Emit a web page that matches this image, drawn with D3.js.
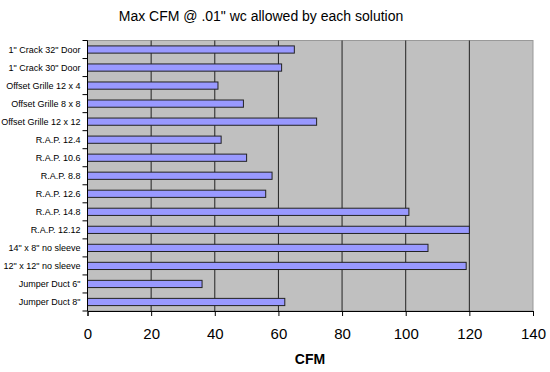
<!DOCTYPE html>
<html lang="en">
<head>
    <meta charset="UTF-8">
    <title>Max CFM @ .01" wc allowed by each solution</title>
    <script src="https://d3js.org/d3.v7.min.js"></script>
    <style>
        body {
            margin: 0;
            background: white;
            font-family: Arial, "Liberation Sans", sans-serif;
        }
    </style>
</head>
<body>
    <div id="chart"></div>
    <script>
        const categories = [
            "1\" Crack 32\" Door", "1\" Crack 30\" Door", "Offset Grille 12 x 4",
            "Offset Grille 8 x 8", "Offset Grille 12 x 12", "R.A.P. 12.4",
            "R.A.P. 10.6", "R.A.P. 8.8", "R.A.P. 12.6", "R.A.P. 14.8",
            "R.A.P. 12.12", "14\" x 8\" no sleeve", "12\" x 12\" no sleeve",
            "Jumper Duct 6\"", "Jumper Duct 8\""
        ];
        const values = [65, 61, 41, 49, 72, 42, 50, 58, 56, 101, 120, 107, 119, 36, 62];
        const xTicks = [0, 20, 40, 60, 80, 100, 120, 140];

        const W = 550, H = 372;
        const margin = { top: 40.5, right: 17, bottom: 61, left: 87.5 };
        const width = W - margin.left - margin.right;
        const height = H - margin.top - margin.bottom;

        const svg = d3.select("#chart")
            .append("svg")
            .attr("width", W)
            .attr("height", H);

        svg.append("text")
            .attr("x", 261)
            .attr("y", 21)
            .attr("text-anchor", "middle")
            .style("font-size", "14px")
            .text("Max CFM @ .01\" wc allowed by each solution");

        const g = svg.append("g")
            .attr("transform", `translate(${margin.left},${margin.top})`);

        const x = d3.scaleLinear().domain([0, 140]).range([0, width]);
        const y = d3.scaleBand().domain(categories).range([0, height]).paddingInner(0.6).paddingOuter(0.3);

        // plot area
        g.append("rect")
            .attr("width", width)
            .attr("height", height)
            .attr("fill", "#c0c0c0")
            .attr("stroke", "#999")
            .attr("stroke-width", 1);

        // gridlines
        g.selectAll(".grid")
            .data(xTicks.filter(d => d > 0 && d < 140))
            .enter()
            .append("line")
            .attr("x1", d => x(d)).attr("x2", d => x(d))
            .attr("y1", 0).attr("y2", height)
            .attr("stroke", "#222")
            .attr("stroke-width", 1);

        // bars
        g.selectAll(".bar")
            .data(categories)
            .enter()
            .append("rect")
            .attr("x", 0)
            .attr("y", d => y(d))
            .attr("width", (d, i) => x(values[i]))
            .attr("height", y.bandwidth())
            .attr("fill", "#9999ff")
            .attr("stroke", "#222")
            .attr("stroke-width", 1);

        // x axis
        const xAxis = g.append("g")
            .attr("transform", `translate(0,${height})`)
            .call(d3.axisBottom(x).tickValues(xTicks).tickSize(5).tickPadding(12));
        xAxis.select(".domain").attr("stroke", "#000");
        xAxis.selectAll("text")
            .style("font-size", "15px")
            .style("font-family", "Arial, 'Liberation Sans', sans-serif");

        // y axis: ticks between categories
        const step = height / categories.length;
        const yAxis = g.append("g");
        yAxis.append("line")
            .attr("x1", 0).attr("x2", 0)
            .attr("y1", 0).attr("y2", height)
            .attr("stroke", "#000");
        yAxis.selectAll(".ytick")
            .data(d3.range(categories.length + 1))
            .enter()
            .append("line")
            .attr("x1", -5).attr("x2", 0)
            .attr("y1", d => d * step).attr("y2", d => d * step)
            .attr("stroke", "#000");
        yAxis.selectAll(".ylabel")
            .data(categories)
            .enter()
            .append("text")
            .attr("x", -7)
            .attr("y", d => y(d) + y.bandwidth() / 2)
            .attr("dy", "0.35em")
            .attr("text-anchor", "end")
            .style("font-size", "9px")
            .text(d => d);

        svg.append("text")
            .attr("x", 310)
            .attr("y", 364)
            .attr("text-anchor", "middle")
            .style("font-size", "14px")
            .style("font-weight", "bold")
            .text("CFM");
    </script>
</body>
</html>
